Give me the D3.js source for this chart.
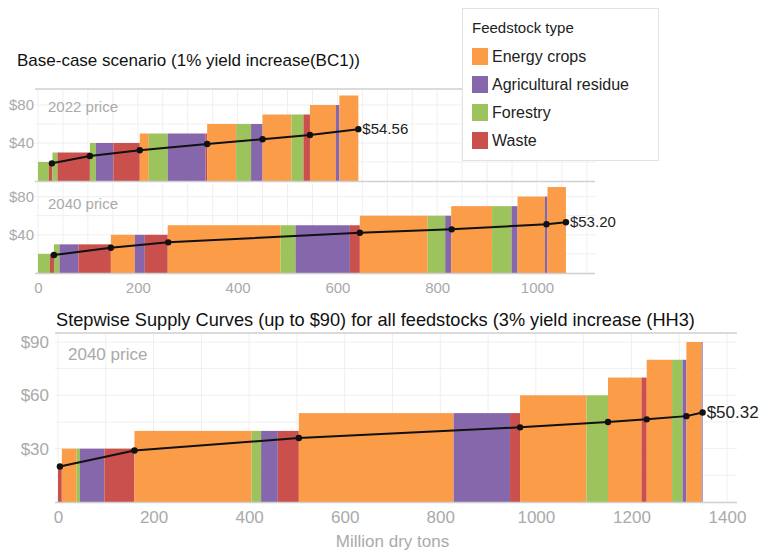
<!DOCTYPE html>
<html>
<head>
<meta charset="utf-8">
<script src="https://cdn.jsdelivr.net/npm/d3@7"></script>
<style>
  body { margin: 0; background: #fff; }
  text { font-family: "Liberation Sans", Arial, sans-serif; }
</style>
</head>
<body>
<div id="chart"></div>
<script>
// feedstock types and colours
const feedTypes = ["Energy crops", "Agricultural residue", "Forestry", "Waste"];
const feedColors = ["#FA9C48", "#8767AC", "#9DC35C", "#C9504D"];

// 2022 price, base case (BC1): cumulative end of each step (million dry tons), price ($/dry ton), type
const bc2022End = [22, 29, 39, 104, 116, 151, 204, 222, 260, 336, 339, 397, 427, 450, 508, 532, 545, 597, 604, 642];
const bc2022Price = [20, 20, 30, 30, 40, 40, 40, 50, 50, 50, 50, 60, 60, 60, 70, 70, 70, 80, 80, 90];
const bc2022Type = ["Forestry", "Waste", "Forestry", "Waste", "Forestry", "Agricultural residue", "Waste",
  "Energy crops", "Forestry", "Agricultural residue", "Waste", "Energy crops", "Forestry", "Agricultural residue",
  "Energy crops", "Forestry", "Waste", "Energy crops", "Agricultural residue", "Energy crops"];
const bc2022LineX = [28, 104, 204, 339, 450, 545, 642];
const bc2022LineY = [18.6, 26.3, 32.3, 38.9, 43.9, 48.4, 54.56];

// 2040 price, base case (BC1)
const bc2040End = [24, 32, 43, 81, 146, 194, 214, 260, 486, 516, 625, 645, 781, 816, 828, 910, 949, 961, 1016, 1021, 1058];
const bc2040Price = [20, 20, 30, 30, 30, 40, 40, 40, 50, 50, 50, 50, 60, 60, 60, 70, 70, 70, 80, 80, 90];
const bc2040Type = ["Forestry", "Waste", "Forestry", "Agricultural residue", "Waste", "Energy crops",
  "Agricultural residue", "Waste", "Energy crops", "Forestry", "Agricultural residue", "Waste", "Energy crops",
  "Forestry", "Agricultural residue", "Energy crops", "Forestry", "Agricultural residue", "Energy crops",
  "Agricultural residue", "Energy crops"];
const bc2040LineX = [32, 146, 261, 645, 829, 1019, 1058];
const bc2040LineY = [18.8, 26.5, 32.1, 42.2, 45.7, 51, 53.2];

// 2040 price, 3% yield increase (HH3)
const hh3End = [8, 39, 46, 97, 160, 405, 425, 460, 504, 828, 946, 967, 1106, 1151, 1221, 1232, 1285, 1307, 1315, 1347, 1349];
const hh3Price = [20, 30, 30, 30, 30, 40, 40, 40, 40, 50, 50, 50, 60, 60, 70, 70, 80, 80, 80, 90, 90];
const hh3Type = ["Waste", "Energy crops", "Forestry", "Agricultural residue", "Waste", "Energy crops", "Forestry",
  "Agricultural residue", "Waste", "Energy crops", "Agricultural residue", "Waste", "Energy crops", "Forestry",
  "Energy crops", "Waste", "Energy crops", "Forestry", "Agricultural residue", "Energy crops", "Agricultural residue"];
const hh3LineX = [4, 160, 504, 967, 1151, 1232, 1315, 1349];
const hh3LineY = [20, 29, 36, 42, 45, 46.5, 48.3, 50.32];

const topXTicks = [0, 200, 400, 600, 800, 1000];
const topYTicks = [40, 80];
const botXTicks = [0, 200, 400, 600, 800, 1000, 1200, 1400];
const botYTicks = [30, 60, 90];

const color = d3.scaleOrdinal().domain(feedTypes).range(feedColors);

const svg = d3.select("#chart").append("svg")
  .attr("width", 767).attr("height", 551);

// draw one stepwise panel
function panel(opt) {
  const g = svg.append("g");
  const x = opt.x, y = opt.y;

  // gridlines
  g.selectAll(".vg").data(d3.range(0, opt.gridMaxX + 1, opt.gridStepX)).join("line")
    .attr("x1", d => x(d)).attr("x2", d => x(d))
    .attr("y1", opt.top).attr("y2", y(0))
    .attr("stroke", "#efefef").attr("stroke-width", 1);
  g.selectAll(".hg").data(d3.range(opt.gridStepY, opt.gridMaxY + 0.1, opt.gridStepY)).join("line")
    .attr("x1", opt.left).attr("x2", opt.right)
    .attr("y1", d => y(d)).attr("y2", d => y(d))
    .attr("stroke", "#efefef").attr("stroke-width", 1);

  // bars
  const steps = opt.end.map((e, i) => ({
    x0: i === 0 ? 0 : opt.end[i - 1], x1: e, price: opt.price[i], type: opt.type[i]
  }));
  g.selectAll(".bar").data(steps).join("rect")
    .attr("x", d => x(d.x0))
    .attr("width", d => x(d.x1) - x(d.x0))
    .attr("y", d => y(d.price))
    .attr("height", d => y(0) - y(d.price))
    .attr("fill", d => color(d.type));

  // baseline
  g.append("line")
    .attr("x1", opt.left).attr("x2", opt.right)
    .attr("y1", y(0) + 0.5).attr("y2", y(0) + 0.5)
    .attr("stroke", "#cfcfcf").attr("stroke-width", 1.5);

  // average price line
  const pts = opt.lineX.map((v, i) => [v, opt.lineY[i]]);
  g.append("path")
    .datum(pts)
    .attr("fill", "none").attr("stroke", "#111").attr("stroke-width", 2)
    .attr("d", d3.line().x(d => x(d[0])).y(d => y(d[1])));
  g.selectAll(".pt").data(pts).join("circle")
    .attr("cx", d => x(d[0])).attr("cy", d => y(d[1])).attr("r", 3.2)
    .attr("fill", "#111");
  const last = pts[pts.length - 1];
  g.append("text")
    .attr("x", x(last[0]) + 4).attr("y", y(last[1]))
    .attr("dy", "0.35em")
    .style("font-size", opt.fs + "px").attr("fill", "#222")
    .text("$" + last[1].toFixed(2));

  // y labels
  const ya = d3.axisLeft(y).tickValues(opt.yTicks).tickSize(0).tickPadding(0)
    .tickFormat(d => "$" + d);
  g.append("g").attr("transform", `translate(${opt.yLabelX},0)`).call(ya)
    .call(s => s.select(".domain").remove())
    .selectAll("text")
    .style("font-size", opt.fs + "px").attr("fill", "#aaa")
    .style("font-family", "'Liberation Sans', Arial, sans-serif");

  // price label
  g.append("text")
    .attr("x", opt.noteX).attr("y", opt.noteY)
    .attr("dy", "0.35em")
    .style("font-size", opt.fs + "px").attr("fill", "#aaa")
    .text(opt.note);

  if (opt.xTicks) {
    const xa = d3.axisBottom(x).tickValues(opt.xTicks).tickSize(0).tickPadding(0)
      .tickFormat(d3.format("d"));
    g.append("g").attr("transform", `translate(0,${opt.xLabelY})`).call(xa)
      .call(s => s.select(".domain").remove())
      .selectAll("text")
      .style("font-size", opt.fs + "px").attr("fill", "#aaa")
      .style("font-family", "'Liberation Sans', Arial, sans-serif");
  }
}

const xTop = d3.scaleLinear().domain([0, 1000]).range([38, 537]);

// titles and frame lines
svg.append("text").attr("x", 17).attr("y", 60).attr("dy", "0.35em")
  .style("font-size", "17px").attr("fill", "#111")
  .text("Base-case scenario (1% yield increase(BC1))");
svg.append("line").attr("x1", 35).attr("x2", 595).attr("y1", 89).attr("y2", 89)
  .attr("stroke", "#cfcfcf").attr("stroke-width", 1.5);

panel({
  x: xTop, y: d3.scaleLinear().domain([0, 80]).range([181, 105]),
  end: bc2022End, price: bc2022Price, type: bc2022Type,
  lineX: bc2022LineX, lineY: bc2022LineY,
  top: 90, left: 35, right: 595, gridMaxX: 1100, gridStepX: 50, gridMaxY: 90, gridStepY: 20,
  yTicks: topYTicks, yLabelX: 34, fs: 15,
  note: "2022 price", noteX: 48, noteY: 107
});

panel({
  x: xTop, y: d3.scaleLinear().domain([0, 80]).range([273, 196.6]),
  end: bc2040End, price: bc2040Price, type: bc2040Type,
  lineX: bc2040LineX, lineY: bc2040LineY,
  top: 183, left: 35, right: 595, gridMaxX: 1100, gridStepX: 50, gridMaxY: 90, gridStepY: 20,
  yTicks: topYTicks, yLabelX: 34, fs: 15,
  note: "2040 price", noteX: 48, noteY: 204,
  xTicks: topXTicks, xLabelY: 282
});

svg.append("text").attr("x", 56).attr("y", 320).attr("dy", "0.35em")
  .style("font-size", "18.2px").attr("fill", "#111")
  .text("Stepwise Supply Curves (up to $90) for all feedstocks (3% yield increase (HH3)");
svg.append("line").attr("x1", 55).attr("x2", 737).attr("y1", 333).attr("y2", 333)
  .attr("stroke", "#cfcfcf").attr("stroke-width", 1.5);

const xBot = d3.scaleLinear().domain([0, 1400]).range([58, 727]);
panel({
  x: xBot, y: d3.scaleLinear().domain([0, 90]).range([502, 342]),
  end: hh3End, price: hh3Price, type: hh3Type,
  lineX: hh3LineX, lineY: hh3LineY,
  top: 334, left: 55, right: 737, gridMaxX: 1400, gridStepX: 100, gridMaxY: 90, gridStepY: 15,
  yTicks: botYTicks, yLabelX: 49, fs: 17,
  note: "2040 price", noteX: 68, noteY: 354,
  xTicks: botXTicks, xLabelY: 511
});

svg.append("text").attr("x", xBot(700)).attr("y", 547)
  .attr("text-anchor", "middle")
  .style("font-size", "17px").attr("fill", "#aaa")
  .text("Million dry tons");

// legend
const lg = svg.append("g");
lg.append("rect").attr("x", 462.5).attr("y", 8.5).attr("width", 196).attr("height", 152)
  .attr("fill", "#fff").attr("stroke", "#e2e2e2");
lg.append("text").attr("x", 472).attr("y", 28).attr("dy", "0.35em")
  .style("font-size", "15px").attr("fill", "#222").text("Feedstock type");
const item = lg.selectAll(".item").data(feedTypes).join("g")
  .attr("transform", (d, i) => `translate(472,${56 + i * 28})`);
item.append("rect").attr("x", 0).attr("y", -8).attr("width", 16).attr("height", 17)
  .attr("fill", d => color(d));
item.append("text").attr("x", 20).attr("y", 0).attr("dy", "0.35em")
  .style("font-size", "16px").attr("fill", "#222").text(d => d);
</script>
</body>
</html>
